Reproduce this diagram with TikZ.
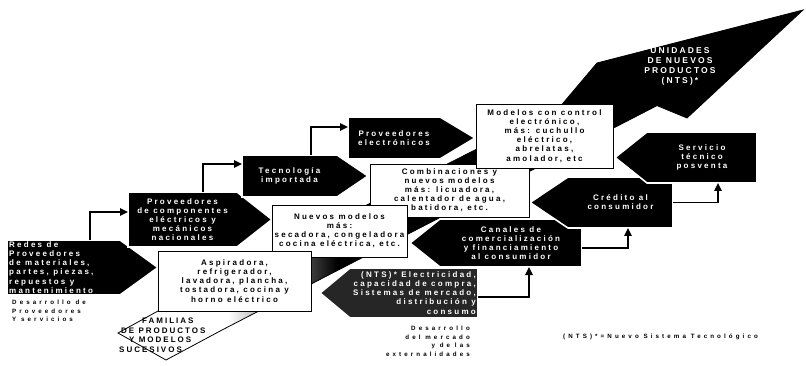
\documentclass[tikz,border=0pt]{standalone}
\usepackage{fontspec}
\setmainfont{Liberation Sans}
\newfontfamily\spfont{Liberation Sans}[LetterSpace=28]
\newfontfamily\spwide{Liberation Sans}[LetterSpace=50]
\newfontfamily\spcaps{Liberation Sans}[LetterSpace=25]
\usetikzlibrary{arrows.meta,calc}
\pgfdeclarehorizontalshading{bandshade}{100bp}{color(0bp)=(white); color(33bp)=(white); color(41bp)=(black); color(100bp)=(black)}
\tikzset{
  boxn/.style={draw=black, fill=white, line width=0.9pt, inner sep=0pt, align=center,
    font=\spfont\bfseries\fontsize{8}{9.1}\selectfont},
  rectarea/.style={inner sep=0pt, outer sep=0pt},
  pent/.style={fill=black, draw=white, line width=1.6pt, line join=miter},
  wtxt/.style={text=white, inner sep=0pt, font=\spfont\bfseries\fontsize{8}{9.1}\selectfont},
  conn/.style={line width=1.3pt, -{Triangle[length=8pt,width=7.5pt]}},
  lbl/.style={inner sep=0pt, font=\spwide\bfseries\fontsize{6.2}{8.6}\selectfont},
  fam/.style={inner sep=0pt, font=\spcaps\bfseries\fontsize{8}{9}\selectfont},
}
\begin{document}
\begin{tikzpicture}[x=1pt,y=-1pt]
\fill[white] (0,0) rectangle (806,366);
\useasboundingbox (0,0) rectangle (806,366);

% big arrow (band)
\shade[shading=bandshade, draw=black, line width=0.8pt]
  (118,333) -- (158,311) -- (560,106.8) -- (597,63) -- (803,10) -- (687,118)
  -- (657,105.6) -- (222,330) -- (166,360) -- cycle;
\node[text=white, inner sep=0pt, align=center, font=\spcaps\bfseries\fontsize{8.5}{10}\selectfont] (head) at (680,66) {UNIDADES\\DE NUEVOS\\PRODUCTOS\\(NTS)*};
\node[fam, anchor=west] (fam1) at (142,321) {FAMILIAS};
\node[fam, anchor=west] (fam2) at (121,330.5) {DE PRODUCTOS};
\node[fam, anchor=west] (fam3) at (129,340) {Y MODELOS};
\node[fam, anchor=west] (fam4) at (119,349.5) {SUCESIVOS};

% upper staircase
\node[rectarea, minimum width=113pt, minimum height=55pt] (p1) at (63.5,267.5) {};
\path[pent] (p1.north west) -- (p1.north east) -- ($(p1.east)+(38,0)$) -- (p1.south east) -- (p1.south west) -- cycle;
\node[wtxt, align=left, anchor=west] (p1t) at ([xshift=2pt]p1.west) {Redes de\\Proveedores\\de materiales,\\partes, piezas,\\repuestos y\\mantenimiento};

\node[rectarea, minimum width=109pt, minimum height=55pt] (p2) at (182.5,219.5) {};
\path[pent] (p2.north west) -- (p2.north east) -- ($(p2.east)+(35,0)$) -- (p2.south east) -- (p2.south west) -- cycle;
\node[wtxt, align=center] (p2t) at (p2.center) {Proveedores\\de componentes\\el\'ectricos y\\mec\'anicos\\nacionales};

\node[rectarea, minimum width=95pt, minimum height=42pt] (p3) at (289.5,176) {};
\path[pent] (p3.north west) -- (p3.north east) -- ($(p3.east)+(31,0)$) -- (p3.south east) -- (p3.south west) -- cycle;
\node[wtxt, align=center] (p3t) at (p3.center) {Tecnolog\'ia\\importada};

\node[rectarea, minimum width=92pt, minimum height=42pt] (p4) at (394,138) {};
\path[pent] (p4.north west) -- (p4.north east) -- ($(p4.east)+(35,0)$) -- (p4.south east) -- (p4.south west) -- cycle;
\node[wtxt, align=center] (p4t) at (p4.center) {Proveedores\\electr\'onicos};

% lower staircase
\node[rectarea, minimum width=128pt, minimum height=50pt] (l1) at (414,293) {};
\path[pent, fill=black!85] (l1.north east) -- (l1.north west) -- ($(l1.west)+(-30,0)$) -- (l1.south west) -- (l1.south east) -- cycle;
\node[wtxt, align=right, anchor=east] (l1t) at ([xshift=-2pt]l1.east) {(NTS)* Electricidad,\\capacidad de compra,\\Sistemas de mercado,\\distribuci\'on y\\consumo};

\node[rectarea, minimum width=142pt, minimum height=48pt] (l2) at (511,243) {};
\path[pent] (l2.north east) -- (l2.north west) -- ($(l2.west)+(-30,0)$) -- (l2.south west) -- (l2.south east) -- cycle;
\node[wtxt, align=center] (l2t) at (l2.center) {Canales de\\comercializaci\'on\\y financiamiento\\al consumidor};

\node[rectarea, minimum width=105pt, minimum height=51pt] (l3) at (620.5,202.5) {};
\path[pent] (l3.north east) -- (l3.north west) -- ($(l3.west)+(-38,0)$) -- (l3.south west) -- (l3.south east) -- cycle;
\node[wtxt, align=center] (l3t) at (l3.center) {Cr\'edito al\\consumidor};

\node[rectarea, minimum width=110pt, minimum height=51pt] (l4) at (702,157.5) {};
\path[pent] (l4.north east) -- (l4.north west) -- ($(l4.west)+(-32,0)$) -- (l4.south west) -- (l4.south east) -- cycle;
\node[wtxt, align=center] (l4t) at (l4.center) {Servicio\\t\'ecnico\\posventa};

% white boxes
\node[boxn, minimum width=159pt, minimum height=53pt] (b3) at (449.5,190.5) {Combinaciones y\\nuevos modelos\\m\'as: licuadora,\\calentador de agua,\\batidora, etc.};
\node[boxn, minimum width=135pt, minimum height=52pt] (b2) at (339.5,231) {Nuevos modelos\\m\'as:\\secadora, congeladora\\cocina el\'ectrica, etc.};
\node[boxn, minimum width=153pt, minimum height=60pt] (b1) at (234.5,281) {Aspiradora,\\refrigerador,\\lavadora, plancha,\\tostadora, cocina y\\horno el\'ectrico};
\node[boxn, minimum width=137pt, minimum height=64pt] (b4) at (544.5,136) {Modelos con control\\electr\'onico,\\m\'as: cuchullo\\el\'ectrico,\\abrelatas,\\amolador, etc};

% connectors
\draw[conn] ([xshift=26.5pt]p1.north) |- ([yshift=7.5pt]p2.west);
\draw[conn] ([xshift=20.5pt]p2.north) |- ([yshift=12pt]p3.west);
\draw[conn] ([xshift=21.5pt]p3.north) |- ([yshift=11pt]p4.west);
\draw[conn] ([yshift=-4pt]l1.east) -| ([xshift=18pt]l2.south);
\draw[conn] ([yshift=-5pt]l2.east) -| ([xshift=7.5pt]l3.south);
\draw[conn] (l3.east) -| ([xshift=16pt]l4.south);

% labels
\node[lbl, align=left, anchor=north west] (lab1) at (12,300) {Desarrollo de\\Proveedores\\Y servicios};
\node[lbl, align=right, anchor=north east] (lab2) at (470,326) {Desarrollo\\del mercado\\y de las\\externalidades};
\node[lbl, anchor=west] (note) at (563,337) {(NTS)*=Nuevo Sistema Tecnol\'ogico};
\end{tikzpicture}
\end{document}
